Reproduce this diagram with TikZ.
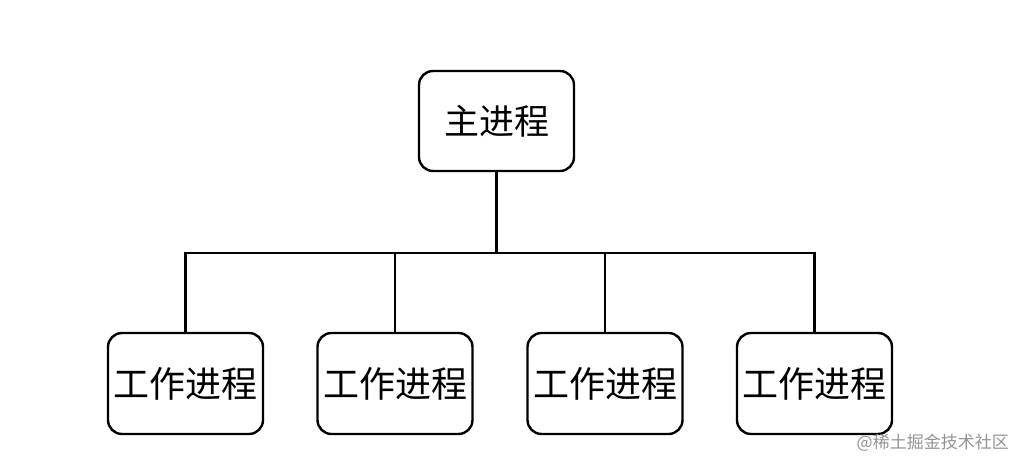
\documentclass[tikz,border=0pt]{standalone}
\usepackage{fontspec}
\newfontfamily\cjk{Noto Sans CJK SC}
\begin{document}
\begin{tikzpicture}[x=1pt,y=-1pt,
  proc/.style={draw=black, line width=2.4pt, rounded corners=14pt, minimum width=155pt, minimum height=100pt, inner sep=0pt, font=\cjk\fontsize{35}{40}\selectfont},
  worker/.style={proc, minimum height=101pt, font=\cjk\fontsize{36}{40}\selectfont},
  link/.style={draw=black, line width=2.4pt}]
\useasboundingbox[fill=white] (0,0) rectangle (1026,466);
\node[proc] (main) at (496.5,121) {主进程};
\node[worker] (w1) at (185.5,383.5) {工作进程};
\node[worker] (w2) at (395,383.5) {工作进程};
\node[worker] (w3) at (605,383.5) {工作进程};
\node[worker] (w4) at (814.5,383.5) {工作进程};
\coordinate (bus) at (0,253);
\draw[link] (main.south) -- (main.south |- bus);
\draw[link] (w1.north) -- (w1.north |- bus) -- (w4.north |- bus) -- (w4.north);
\draw[link] (w2.north) -- (w2.north |- bus);
\draw[link] (w3.north) -- (w3.north |- bus);
\node[text=black!42, font=\cjk\fontsize{17}{20}\selectfont, anchor=east, inner sep=0pt] (wm) at (1009,443) {@稀土掘金技术社区};
\end{tikzpicture}
\end{document}
